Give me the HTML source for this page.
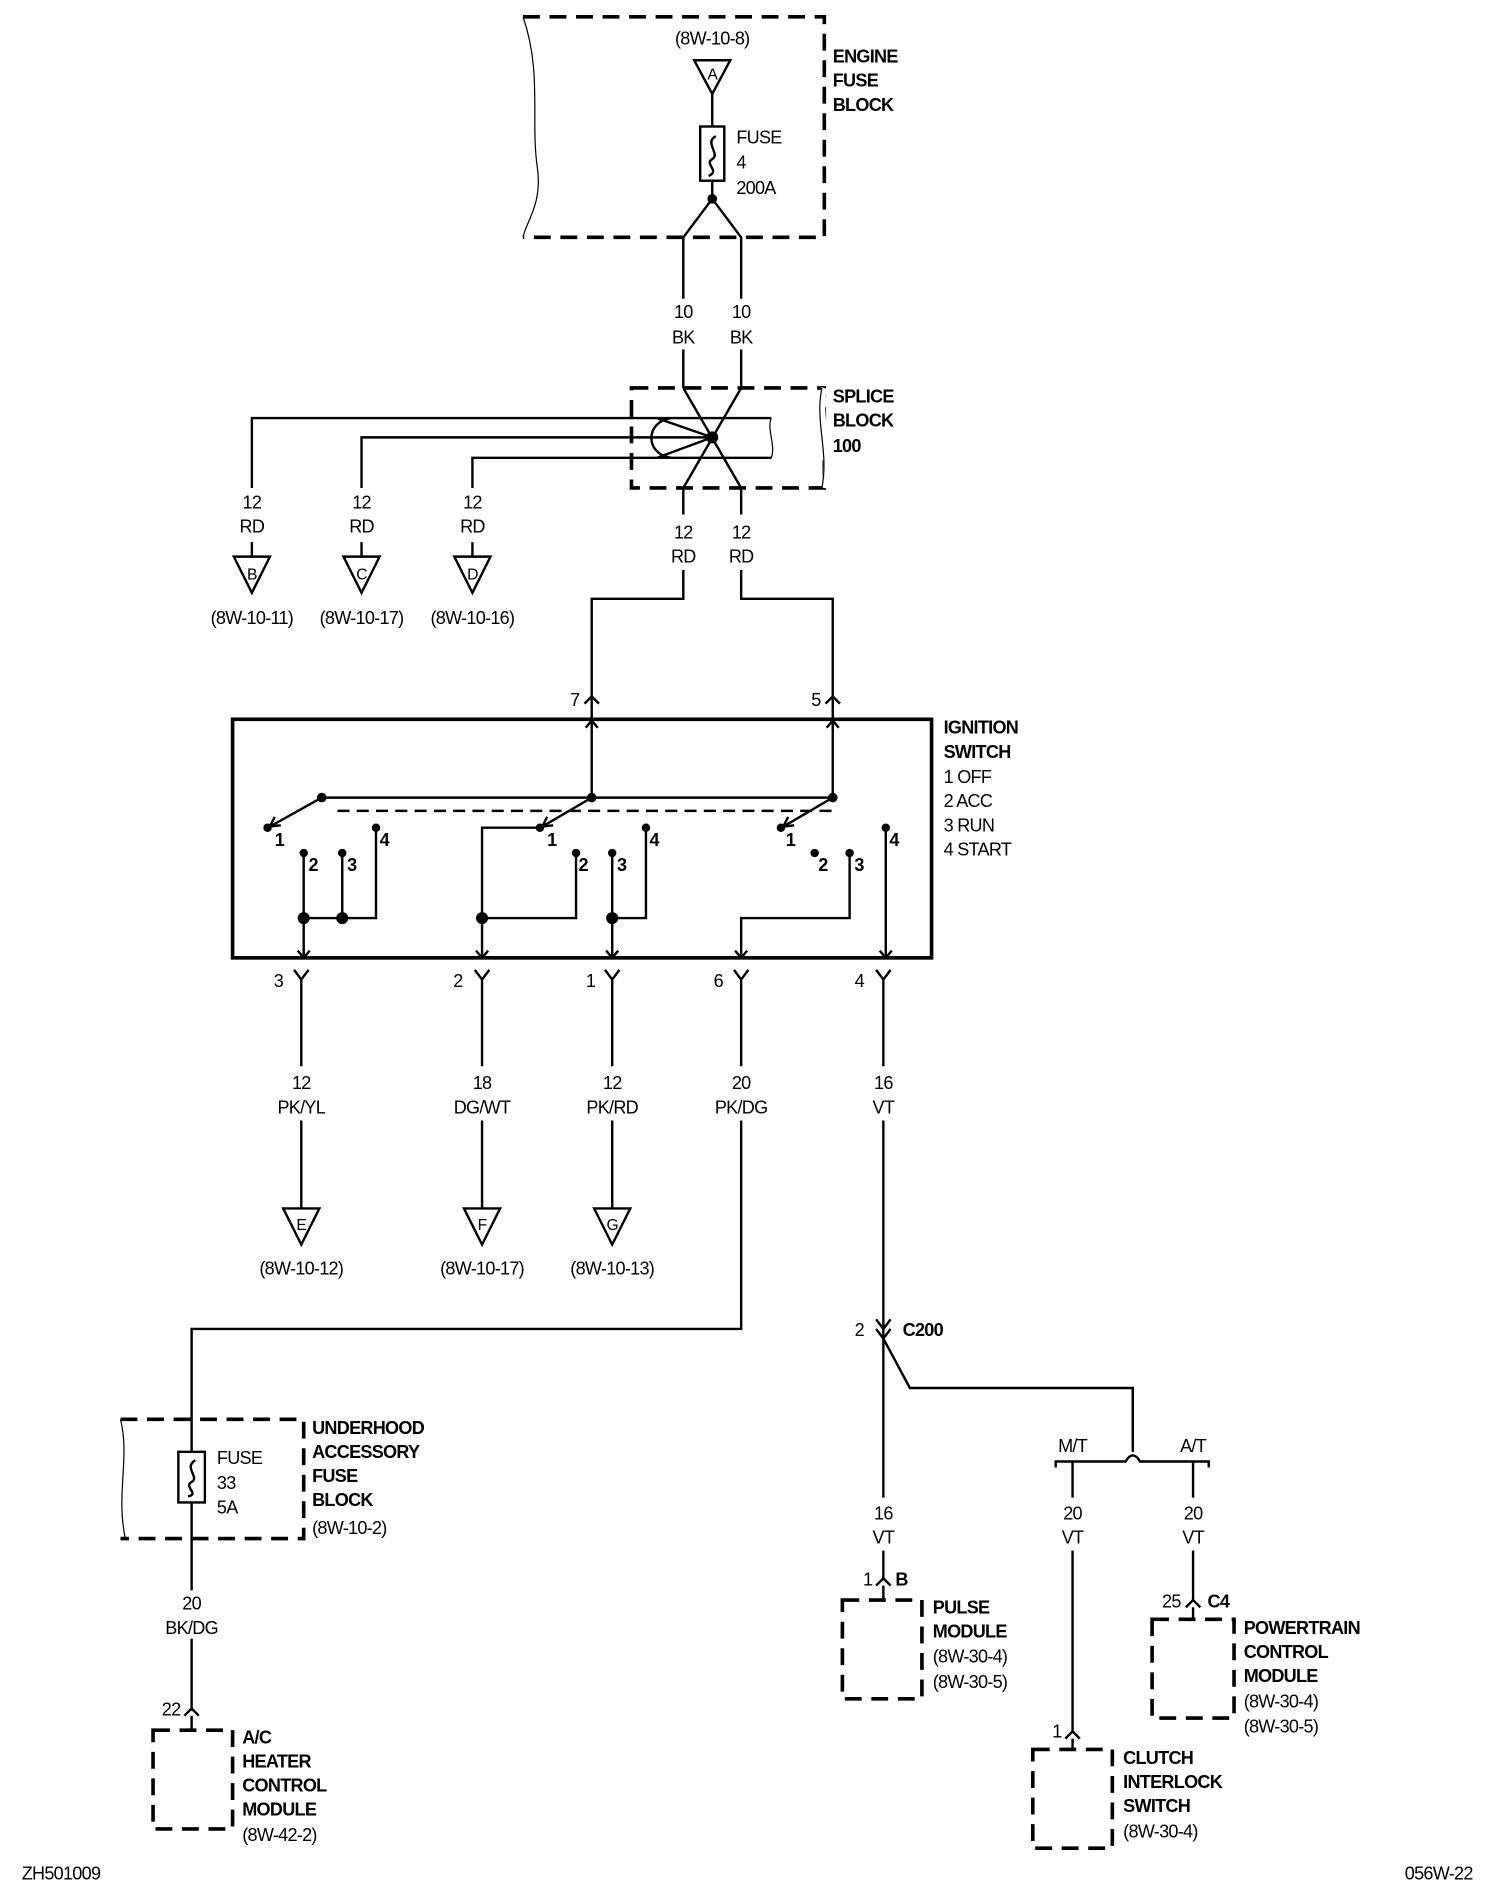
<!DOCTYPE html>
<html><head><meta charset="utf-8"><style>
html,body{margin:0;padding:0;background:#fff;}
svg{display:block;}
text{font-family:"Liberation Sans Narrow","Liberation Sans",sans-serif;font-size:15px;letter-spacing:-0.6px;fill:#000;}
.b{font-weight:bold;}
.m{text-anchor:middle;}
.e{text-anchor:end;}
</style></head><body>
<svg width="1504" height="1888" viewBox="0 0 1248 1567" preserveAspectRatio="none" xmlns="http://www.w3.org/2000/svg">
<g fill="none" stroke="#000" stroke-width="2">
<path d="M434,14 H684 V197 H434" stroke-width="3" stroke-dasharray="14,8"/>
<path d="M434,14 C450,60 440,100 446,140 C450,170 436,185 434,197" stroke-width="1"/>
<path d="M576,50 H606 L591,78 Z"/>
<path d="M591,78 V105 M591,150 V165"/>
<rect x="581" y="105" width="20" height="45"/>
<path d="M594,113 C584,118 598,128 591,132 C584,136 598,142 588,146"/>
<path d="M591,165 L567,197 V248 M591,165 L615,197 V248 M567,290 V322 M615,290 V322"/>
<path d="M524,322 H684 V405 H524 Z" stroke-width="3" stroke-dasharray="14,8"/>
<path d="M684,322 C678,345 690,370 684,405" stroke="#fff" stroke-width="5"/>
<path d="M682,322 C676,350 688,375 682,405" stroke-width="1"/>
<path d="M567,322 L615,405 M615,322 L567,405"/>
<path d="M545,347 H640 M545,380 H640"/>
<path d="M640,347 C636,356 644,370 640,380" stroke-width="1"/>
<path d="M209,405 V347 H545 L591,363 M300,405 V363 H591 M392,405 V380 H545 L591,363"/>
<path d="M209,450 V462 M300,450 V462 M392,450 V462"/>
<path d="M557,347 C535,350 535,377 557,380"/>
<path d="M194,462 H224 L209,492 Z M285,462 H315 L300,492 Z M377,462 H407 L392,492 Z"/>
<path d="M567,405 V427 M615,405 V427 M567,473 V497 H491 V597 M615,473 V497 H691 V597"/>
<path d="M485,584 L491,578 L497,584 M685,584 L691,578 L697,584"/>
<rect x="193" y="597" width="580" height="198" stroke-width="3"/>
<path d="M486,604 L491,598 L496,604 M686,604 L691,598 L696,604"/>
<path d="M491,597 V662 M691,597 V662 M267,662 H691"/>
<path d="M280,673 H691" stroke-dasharray="10,6"/>
<path d="M267,662 L224,686 M491,662 L450,686 M691,662 L650,686"/>
<path d="M228,678 L224,686 L233,685 M454,678 L450,686 L459,685 M654,678 L650,686 L659,685"/>
<path d="M252,708 V795 M284,708 V762 M312,687 V762 H252"/>
<path d="M448,687 H400 V795 M478,708 V762 H400 M508,708 V795 M536,687 V762 H508"/>
<path d="M705,708 V762 H615 V795 M735,687 V795"/>
<path d="M247,789 L252,795 L257,789 M395,789 L400,795 L405,789 M503,789 L508,795 L513,789 M610,789 L615,795 L620,789 M730,789 L735,795 L740,789"/>
<path d="M244,805 L250,813 L256,805 M250,813 V1003 M394,805 L400,813 L406,805 M400,813 V1003 M502,805 L508,813 L514,805 M508,813 V1003 M609,805 L615,813 L621,805 M615,813 V1103 H159 V1420 M727,805 L733,813 L739,805 M733,813 V1310"/>
<path d="M235,1003 H265 L250,1033 Z M385,1003 H415 L400,1033 Z M493,1003 H523 L508,1033 Z"/>
<path d="M727,1095 L733,1103 L739,1095 M727,1103 L733,1111 L739,1103"/>
<path d="M733,1111 L755,1152 H940 V1200"/>
<path d="M876,1218 V1213 H934 Q940,1203 946,1213 H1003 V1218"/>
<path d="M940,1152 V1205"/>
<path d="M890,1213 V1437 M990,1213 V1328"/>
<path d="M100,1178 H252 V1277 H100" stroke-width="3" stroke-dasharray="14,8"/>
<path d="M100,1178 C108,1210 96,1240 104,1277" stroke-width="1"/>
<rect x="148" y="1205" width="22" height="42" fill="#fff"/>
<path d="M162,1212 C152,1218 166,1226 159,1230 C152,1234 166,1240 156,1242"/>
<path d="M153,1424 L159,1418 L165,1424 M727,1316 L733,1310 L739,1316 M984,1334 L990,1328 L996,1334 M884,1443 L890,1437 L896,1443"/>
<path d="M159,1424 V1436 M733,1316 V1328 M990,1334 V1344 M890,1443 V1452"/>
<path d="M250,885 V930 M400,885 V930 M508,885 V930 M615,885 V930 M733,885 V930 M567,250 V290 M615,250 V290 M159,1320 V1360 M733,1243 V1287 M890,1243 V1287 M990,1243 V1287" stroke="#fff" stroke-width="8"/>
<g stroke-width="3" stroke-dasharray="14,8">
<rect x="127" y="1436" width="66" height="82"/>
<rect x="699" y="1328" width="66" height="82"/>
<rect x="956" y="1344" width="68" height="82"/>
<rect x="857" y="1452" width="66" height="82"/>
</g>
</g>
<g fill="#000">
<circle cx="591" cy="165" r="4"/><circle cx="591" cy="363" r="5"/>
<circle cx="267" cy="662" r="4"/><circle cx="491" cy="662" r="4"/><circle cx="691" cy="662" r="4"/>
<circle cx="222" cy="687" r="3.5"/><circle cx="252" cy="708" r="3.5"/><circle cx="284" cy="708" r="3.5"/><circle cx="312" cy="687" r="3.5"/>
<circle cx="448" cy="687" r="3.5"/><circle cx="478" cy="708" r="3.5"/><circle cx="508" cy="708" r="3.5"/><circle cx="536" cy="687" r="3.5"/>
<circle cx="648" cy="687" r="3.5"/><circle cx="676" cy="708" r="3.5"/><circle cx="705" cy="708" r="3.5"/><circle cx="735" cy="687" r="3.5"/>
<circle cx="252" cy="762" r="5"/><circle cx="284" cy="762" r="5"/><circle cx="400" cy="762" r="5"/><circle cx="508" cy="762" r="5"/>
</g>
<text x="591" y="37" class="m">(8W-10-8)</text>
<text x="591" y="66" class="m" style="font-size:13px">A</text>
<text x="611" y="119">FUSE</text><text x="611" y="140">4</text><text x="611" y="161">200A</text>
<text x="691" y="52" class="b">ENGINE</text><text x="691" y="72" class="b">FUSE</text><text x="691" y="92" class="b">BLOCK</text>
<text x="567" y="264" class="m">10</text><text x="567" y="285" class="m">BK</text>
<text x="615" y="264" class="m">10</text><text x="615" y="285" class="m">BK</text>
<text x="691" y="334" class="b">SPLICE</text><text x="691" y="354" class="b">BLOCK</text><text x="691" y="375" class="b">100</text>
<text x="209" y="422" class="m">12</text><text x="209" y="442" class="m">RD</text>
<text x="300" y="422" class="m">12</text><text x="300" y="442" class="m">RD</text>
<text x="392" y="422" class="m">12</text><text x="392" y="442" class="m">RD</text>
<text x="567" y="447" class="m">12</text><text x="567" y="467" class="m">RD</text>
<text x="615" y="447" class="m">12</text><text x="615" y="467" class="m">RD</text>
<text x="209" y="481" class="m" style="font-size:13px">B</text><text x="300" y="481" class="m" style="font-size:13px">C</text><text x="392" y="481" class="m" style="font-size:13px">D</text>
<text x="209" y="518" class="m">(8W-10-11)</text><text x="300" y="518" class="m">(8W-10-17)</text><text x="392" y="518" class="m">(8W-10-16)</text>
<text x="477" y="586" class="m">7</text><text x="677" y="586" class="m">5</text>
<text x="783" y="609" class="b">IGNITION</text><text x="783" y="629" class="b">SWITCH</text>
<text x="783" y="650">1 OFF</text><text x="783" y="670">2 ACC</text><text x="783" y="690">3 RUN</text><text x="783" y="710">4 START</text>
<g style="font-size:12px" class="b">
<text x="228" y="702">1</text><text x="256" y="723">2</text><text x="288" y="723">3</text><text x="315" y="702">4</text>
<text x="454" y="702">1</text><text x="480" y="723">2</text><text x="512" y="723">3</text><text x="539" y="702">4</text>
<text x="652" y="702">1</text><text x="679" y="723">2</text><text x="709" y="723">3</text><text x="738" y="702">4</text>
</g>
<text x="231" y="819" class="m">3</text><text x="380" y="819" class="m">2</text><text x="490" y="819" class="m">1</text><text x="596" y="819" class="m">6</text><text x="713" y="819" class="m">4</text>
<text x="250" y="904" class="m">12</text><text x="250" y="924" class="m">PK/YL</text>
<text x="400" y="904" class="m">18</text><text x="400" y="924" class="m">DG/WT</text>
<text x="508" y="904" class="m">12</text><text x="508" y="924" class="m">PK/RD</text>
<text x="615" y="904" class="m">20</text><text x="615" y="924" class="m">PK/DG</text>
<text x="733" y="904" class="m">16</text><text x="733" y="924" class="m">VT</text>
<text x="250" y="1021" class="m" style="font-size:13px">E</text><text x="400" y="1021" class="m" style="font-size:13px">F</text><text x="508" y="1021" class="m" style="font-size:13px">G</text>
<text x="250" y="1058" class="m">(8W-10-12)</text><text x="400" y="1058" class="m">(8W-10-17)</text><text x="508" y="1058" class="m">(8W-10-13)</text>
<text x="713" y="1109" class="m">2</text><text x="749" y="1109" class="b">C200</text>
<text x="890" y="1205" class="m">M/T</text><text x="990" y="1205" class="m">A/T</text>
<text x="180" y="1215">FUSE</text><text x="180" y="1236">33</text><text x="180" y="1256">5A</text>
<text x="259" y="1190" class="b">UNDERHOOD</text><text x="259" y="1210" class="b">ACCESSORY</text><text x="259" y="1230" class="b">FUSE</text><text x="259" y="1250" class="b">BLOCK</text><text x="259" y="1273">(8W-10-2)</text>
<text x="159" y="1336" class="m">20</text><text x="159" y="1356" class="m">BK/DG</text>
<text x="733" y="1261" class="m">16</text><text x="733" y="1281" class="m">VT</text>
<text x="890" y="1261" class="m">20</text><text x="890" y="1281" class="m">VT</text>
<text x="990" y="1261" class="m">20</text><text x="990" y="1281" class="m">VT</text>
<text x="142" y="1424" class="m">22</text>
<text x="720" y="1316" class="m">1</text><text x="743" y="1316" class="b">B</text>
<text x="972" y="1334" class="m">25</text><text x="1002" y="1334" class="b">C4</text>
<text x="877" y="1442" class="m">1</text>
<text x="201" y="1447" class="b">A/C</text><text x="201" y="1467" class="b">HEATER</text><text x="201" y="1487" class="b">CONTROL</text><text x="201" y="1507" class="b">MODULE</text><text x="201" y="1528">(8W-42-2)</text>
<text x="774" y="1339" class="b">PULSE</text><text x="774" y="1359" class="b">MODULE</text><text x="774" y="1380">(8W-30-4)</text><text x="774" y="1401">(8W-30-5)</text>
<text x="1032" y="1356" class="b">POWERTRAIN</text><text x="1032" y="1376" class="b">CONTROL</text><text x="1032" y="1396" class="b">MODULE</text><text x="1032" y="1417">(8W-30-4)</text><text x="1032" y="1438">(8W-30-5)</text>
<text x="932" y="1464" class="b">CLUTCH</text><text x="932" y="1484" class="b">INTERLOCK</text><text x="932" y="1504" class="b">SWITCH</text><text x="932" y="1525">(8W-30-4)</text>
<text x="18" y="1560">ZH501009</text>
<text x="1222" y="1560" class="e">056W-22</text>
</svg>
</body></html>
